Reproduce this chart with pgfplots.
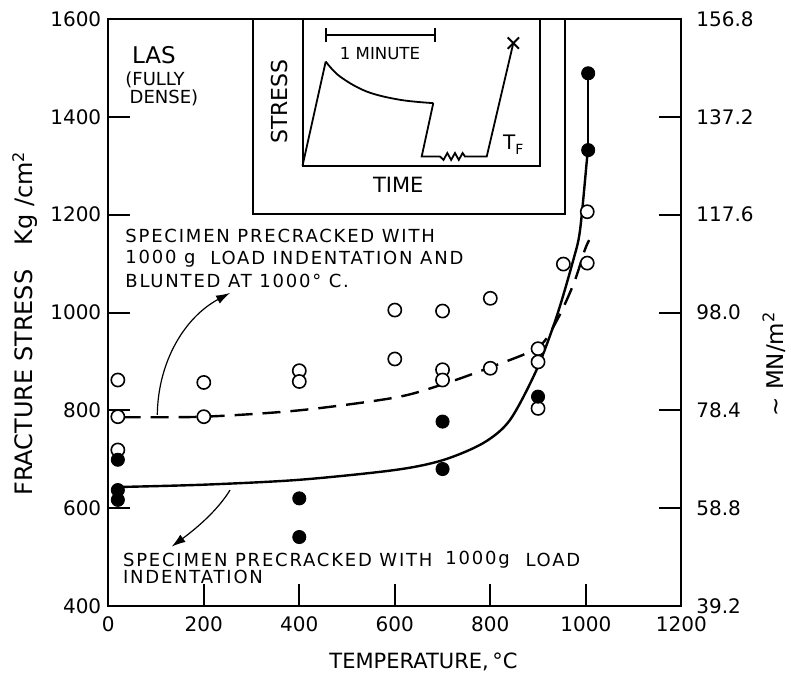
\documentclass[border=0pt]{standalone}
\usepackage{fontspec}
\setmainfont{DejaVu Sans}
\usepackage{pgfplots}
\pgfplotsset{compat=1.18}
\usetikzlibrary{arrows.meta}
\newcommand{\ann}{\fontsize{9}{11}\selectfont\addfontfeatures{LetterSpace=10}}

\begin{document}
\begin{tikzpicture}
\begin{axis}[
  scale only axis, width=286.5pt, height=293.5pt,
  xmin=0, xmax=1200, ymin=400, ymax=1600,
  xtick={0,200,...,1200}, ytick={400,600,...,1600},
  xtick pos=bottom, ytick pos=left, tick align=inside,
  major tick length=11pt,
  axis line style={line width=1pt},
  every tick/.style={black, line width=1pt},
  /pgf/number format/assume math mode=true,
  /pgf/number format/set thousands separator={},
  tick label style={font=\fontsize{10}{12}\selectfont},
  xticklabel style={yshift=-2pt},
  xlabel={TEMPERATURE,\,°C},
  ylabel={FRACTURE STRESS\quad Kg /cm\textsuperscript{2}},
  label style={font=\fontsize{12}{14}\selectfont},
  xlabel style={at={(axis description cs:0.55,-0.0954)}, anchor=center, font=\fontsize{10.5}{12}\selectfont},
  ylabel style={at={(axis description cs:-0.1454,0.4813)}, anchor=center},
  clip=false,
]
\coordinate (O) at (rel axis cs:0,0);

% fitted curves
\addplot[black, line width=1.2pt, smooth, tension=0.5] coordinates {
  (10,643) (200,648) (400,658) (600,678) (700,698) (785,733) (841,780)
  (897,883) (939,992) (974,1108) (988,1169) (1003,1319) (1005,1332)};
\addplot[black, line width=1.2pt] coordinates {(1005,1332) (1005,1489)};
\addplot[black, line width=1.2pt, dash pattern=on 9pt off 5pt, smooth, tension=0.5] coordinates {
  (30,786) (200,787) (400,800) (600,826) (700,853) (800,888) (900,929)
  (940,985) (975,1060) (998,1128) (1007,1148)};

% open circles
\addplot[only marks, mark=*, mark size=3.3pt, mark options={draw=black, fill=white, line width=0.8pt}] coordinates {
  (20,862) (20,787) (20,719)
  (200,857) (200,787)
  (400,881) (400,859)
  (600,1005) (600,905)
  (700,1003) (700,883) (700,862)
  (800,1029) (800,886)
  (900,926) (900,899) (900,804)
  (953,1099) (1003,1101) (1003,1206)};
% filled circles
\addplot[only marks, mark=*, mark size=3.3pt, mark options={draw=black, fill=black}] coordinates {
  (20,699) (20,637) (20,617)
  (400,620) (400,541)
  (700,777) (700,680)
  (900,828)
  (1005,1332) (1005,1489)};

% inset frames
\addplot[black, line width=1pt] coordinates {(302.4,1600) (302.4,1201.6) (956.4,1201.6) (956.4,1600)};
\addplot[black, line width=1pt] coordinates {(406.7,1600) (406.7,1299.8) (904.1,1299.8) (904.1,1600)};
% inset stress-time schematic
\addplot[black, line width=0.9pt] coordinates {(406.7,1299.8) (455.3,1513)};
\addplot[black, line width=0.9pt, smooth, tension=0.6] coordinates {
  (455.3,1513) (485.2,1482.4) (541.2,1451.7) (610.9,1434.8) (680.6,1428)};
\addplot[black, line width=0.9pt] coordinates {
  (680.6,1428) (656.3,1318.8) (694.7,1318.8) (702,1312) (710,1326) (718,1312)
  (726,1326) (734,1312) (742,1326) (747,1318.8) (792.5,1318.8) (848.2,1550.7)};
\addplot[only marks, mark=x, mark size=4pt, mark options={line width=1pt}] coordinates {(848.2,1550.7)};
\addplot[black, line width=0.9pt] coordinates {(455.3,1567.7) (684.2,1567.7)};
\addplot[black, line width=0.9pt] coordinates {(455.3,1582) (455.3,1553)};
\addplot[black, line width=0.9pt] coordinates {(684.2,1582) (684.2,1553)};

\node[font=\fontsize{8.3}{10}\selectfont] at (axis cs:569,1530) {1 MINUTE};
\node[font=\fontsize{11}{13}\selectfont, rotate=90] at (axis cs:359.5,1431) {STRESS};
\node[font=\fontsize{10.5}{12}\selectfont] at (axis cs:607.3,1261) {TIME};
\node[font=\fontsize{10}{12}\selectfont] at (axis cs:848.2,1342.7) {T\raisebox{-0.45ex}{\fontsize{7}{8}\selectfont F}};

% LAS label
\node[anchor=west, font=\fontsize{11.5}{13}\selectfont, inner sep=0pt] at (axis cs:49,1527) {LAS};
\node[anchor=west, font=\fontsize{9}{11}\selectfont, inner sep=0pt] at (axis cs:35,1476) {(FULLY};
\node[anchor=west, font=\fontsize{9}{11}\selectfont, inner sep=0pt] at (axis cs:44,1439) {DENSE)};

% upper annotation
\node[anchor=west, inner sep=0pt] at (axis cs:35,1157) {\ann SPECIMEN PRECRACKED WITH};
\node[anchor=west, inner sep=0pt] at (axis cs:35,1111) {\ann 1000 g};
\node[anchor=west, inner sep=0pt] at (axis cs:213,1111) {\ann LOAD INDENTATION AND};
\node[anchor=west, inner sep=0pt] at (axis cs:35,1065) {\ann BLUNTED AT 1000° C.};
\draw[line width=0.6pt, -{Latex[length=7pt,width=4.5pt]}]
  (axis cs:102.6,790.6) .. controls (axis cs:104,900) and (axis cs:160,990) .. (axis cs:255,1040);

% lower annotation
\node[anchor=west, inner sep=0pt] at (axis cs:30,494) {\ann SPECIMEN PRECRACKED WITH};
\node[anchor=west, inner sep=0pt] at (axis cs:705,494) {\ann 1000g};
\node[anchor=west, inner sep=0pt] at (axis cs:873,494) {\ann LOAD};
\node[anchor=west, inner sep=0pt] at (axis cs:30,459) {\ann INDENTATION};
\draw[line width=0.6pt, -{Latex[length=7pt,width=4.5pt]}]
  (axis cs:254.9,637) .. controls (axis cs:235,605) and (axis cs:200,570) .. (axis cs:132.6,521.3);
\end{axis}

\begin{axis}[
  scale only axis, width=286.5pt, height=293.5pt,
  xmin=0, xmax=1200, ymin=400, ymax=1600,
  axis x line=none, axis y line*=right,
  ytick={400,600,...,1600},
  yticklabels={39.2,58.8,78.4,98.0,117.6,137.2,156.8},
  tick align=inside, major tick length=11pt,
  axis line style={line width=1pt},
  every tick/.style={black, line width=1pt},
  tick label style={font=\fontsize{10}{12}\selectfont},
  yticklabel style={xshift=4pt},
  ylabel={\char"223C\ MN/m\textsuperscript{2}},
  label style={font=\fontsize{11.5}{13}\selectfont},
  ylabel style={at={(axis description cs:1.1615,0.4123)}, anchor=center},
]
\addplot[draw=none] coordinates {(0,400)};
\end{axis}
\pgfresetboundingbox
\path[use as bounding box] (O) ++(-54.15pt,-37.5pt) rectangle ++(395.5pt,340.5pt);
\end{tikzpicture}
\end{document}
